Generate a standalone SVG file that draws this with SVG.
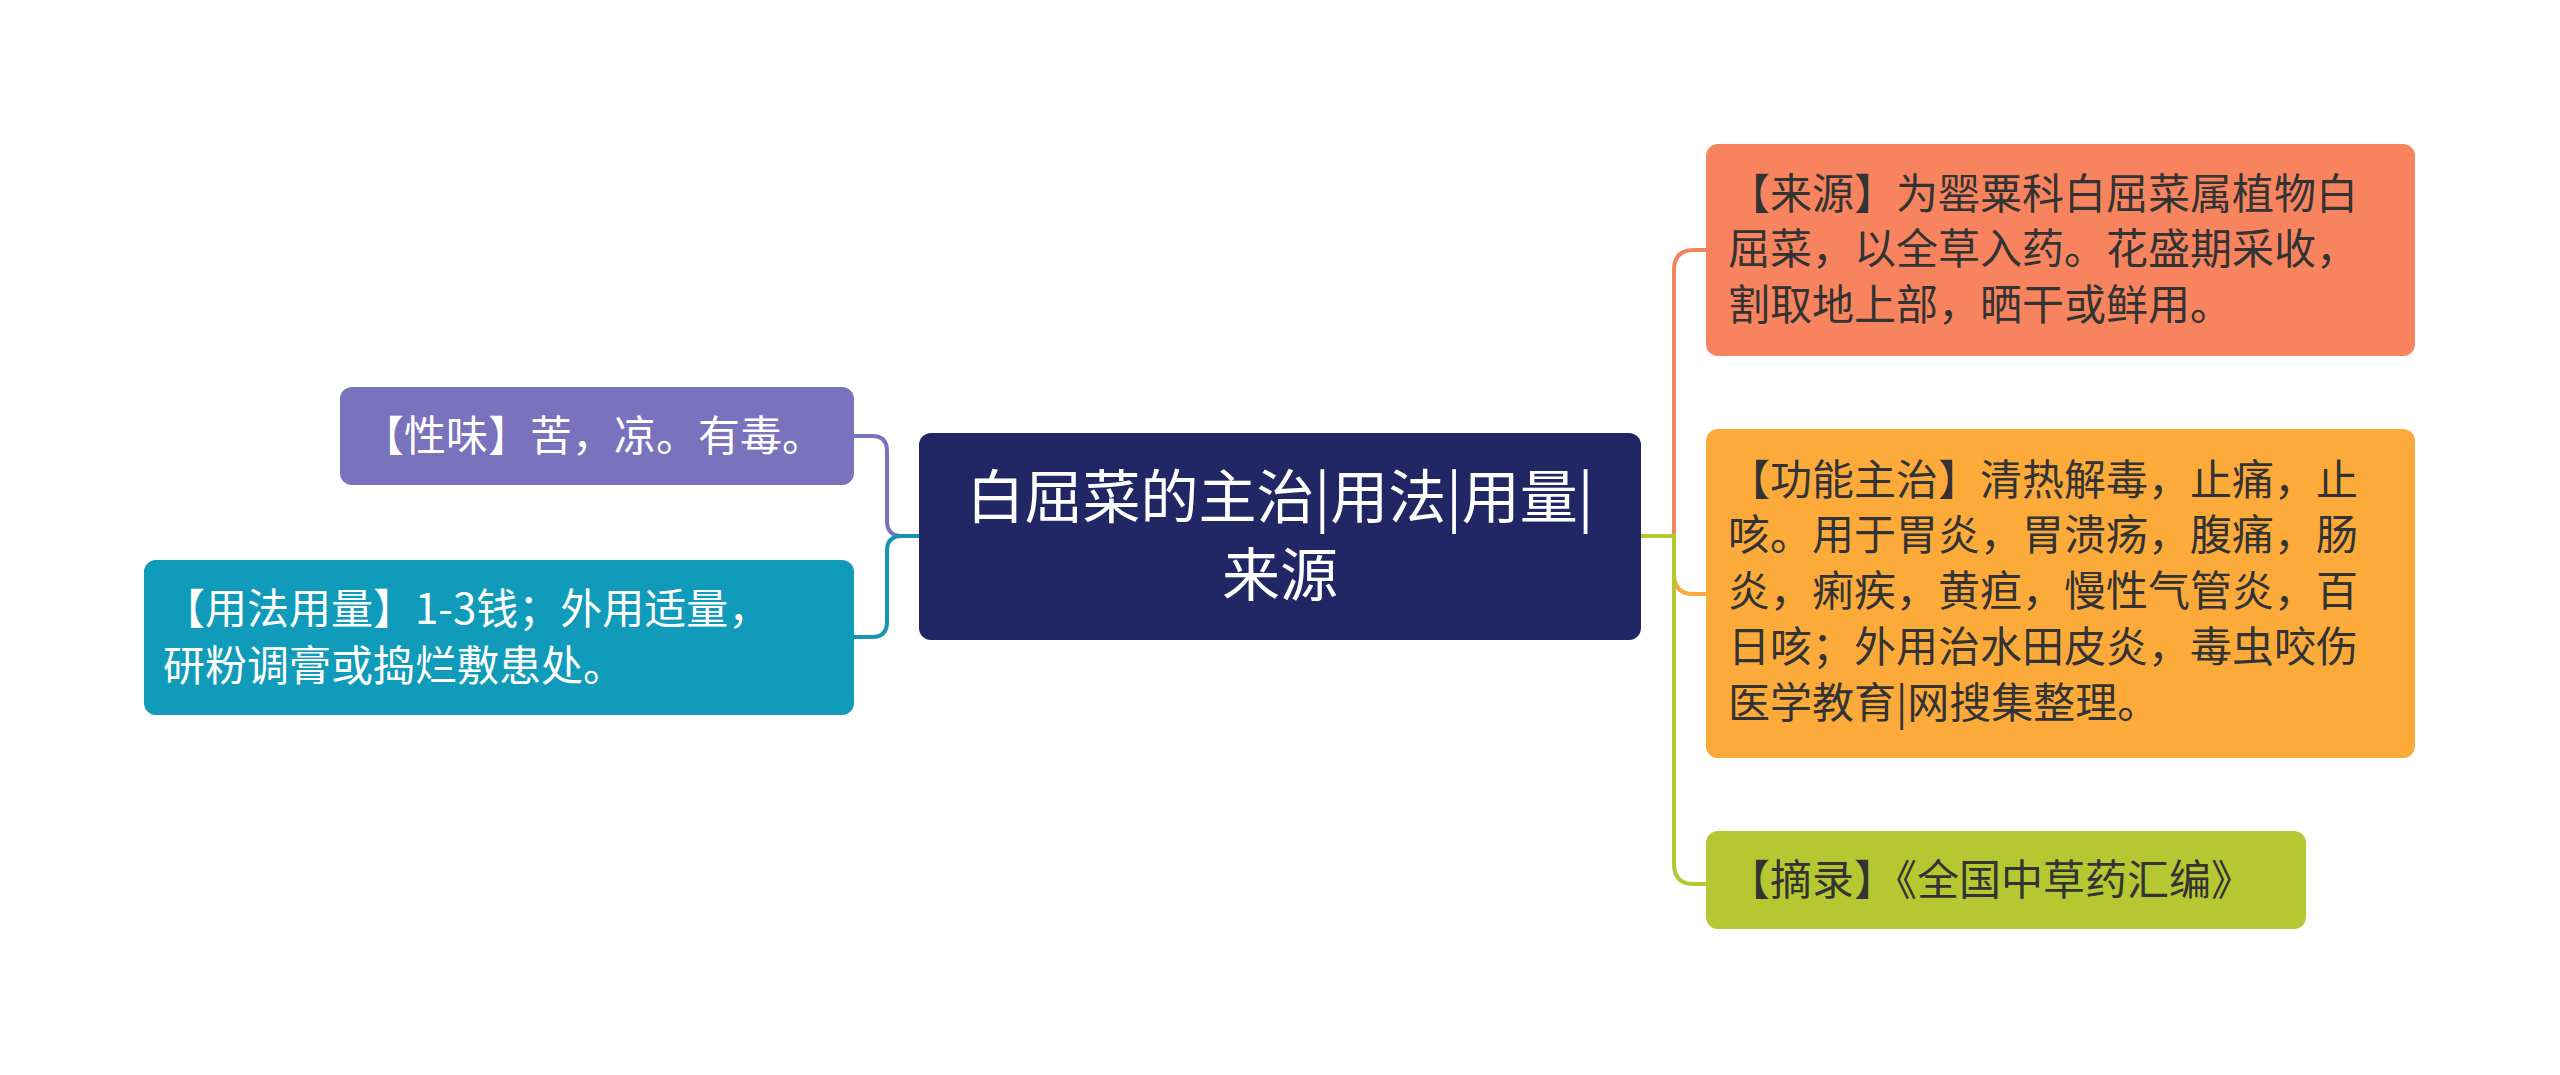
<svg xmlns="http://www.w3.org/2000/svg" width="2560" height="1075" viewBox="0 0 2560 1075">
<style>
text{font-family:"Noto Sans CJK SC","Noto Sans",sans-serif;font-size:42px}
.w{fill:#ffffff}.d{fill:#333333}
.c{fill:none;stroke-width:4}
</style>
<rect width="2560" height="1075" fill="#ffffff"/>
<g id="connectors">
<path class="c" stroke="#7b72bd" d="M919,536 H902 Q887,536 887,521 V451 Q887,436 872,436 H854"/>
<path class="c" stroke="#1596b4" d="M919,536 H902 Q887,536 887,551 V622 Q887,637 872,637 H854"/>
<path class="c" stroke="#f4845f" d="M1641,536 H1674 V270 Q1674,250 1694,250 H1706"/>
<path class="c" stroke="#f9a93c" d="M1674,536 V574 Q1674,594 1694,594 H1706"/>
<path class="c" stroke="#b5c832" d="M1641,536 H1674 V864 Q1674,884 1694,884 H1706"/>
</g>
<g id="center">
<rect x="919" y="433" width="722" height="207" rx="12" fill="#202764"/>
<text class="w" x="1280" y="518" text-anchor="middle" style="font-size:58px">白屈菜的主治|用法|用量|</text>
<text class="w" x="1280" y="596" text-anchor="middle" style="font-size:58px">来源</text>
</g>
<g id="xingwei">
<rect x="340" y="387" width="514" height="98" rx="12" fill="#7b72bd"/>
<text class="w" x="362" y="451">【性味】苦，凉。有毒。</text>
</g>
<g id="yongfa">
<rect x="144" y="560" width="710" height="155" rx="12" fill="#0f9bb9"/>
<text class="w" x="163" y="624">【用法用量】1-3钱；外用适量，</text>
<text class="w" x="163" y="681">研粉调膏或捣烂敷患处。</text>
</g>
<g id="laiyuan">
<rect x="1706" y="144" width="709" height="212" rx="12" fill="#f7845e"/>
<text class="d" x="1728" y="209">【来源】为罂粟科白屈菜属植物白</text>
<text class="d" x="1728" y="264">屈菜，以全草入药。花盛期采收，</text>
<text class="d" x="1728" y="320">割取地上部，晒干或鲜用。</text>
</g>
<g id="gongneng">
<rect x="1706" y="429" width="709" height="329" rx="12" fill="#fcab3b"/>
<text class="d" x="1728" y="495">【功能主治】清热解毒，止痛，止</text>
<text class="d" x="1728" y="550">咳。用于胃炎，胃溃疡，腹痛，肠</text>
<text class="d" x="1728" y="606">炎，痢疾，黄疸，慢性气管炎，百</text>
<text class="d" x="1728" y="662">日咳；外用治水田皮炎，毒虫咬伤</text>
<text class="d" x="1728" y="718">医学教育|网搜集整理。</text>
</g>
<g id="zhailu">
<rect x="1706" y="831" width="600" height="98" rx="12" fill="#b5c832"/>
<text class="d" x="1728" y="895">【摘录】《全国中草药汇编》</text>
</g>
</svg>
